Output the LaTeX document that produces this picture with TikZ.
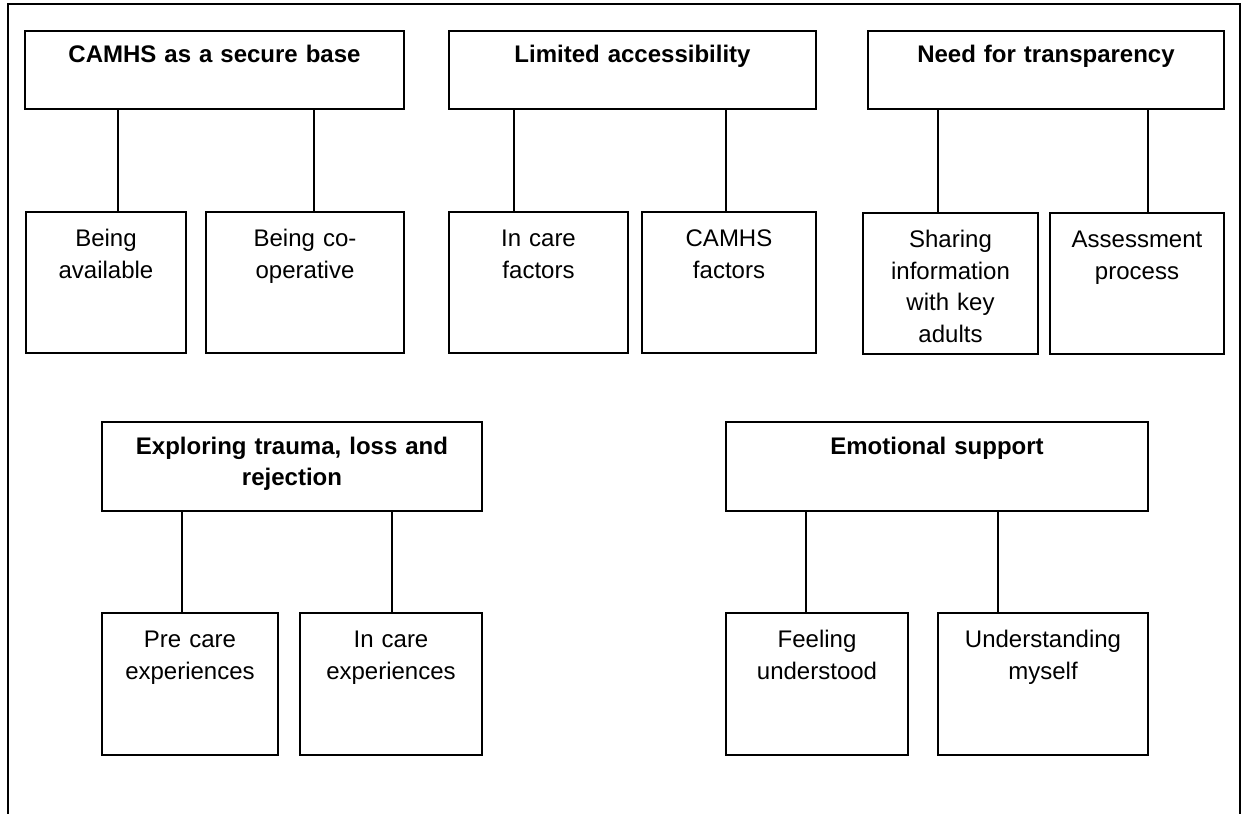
\documentclass[tikz,border=0pt]{standalone}
\usepackage{fontspec}
\setmainfont{Liberation Sans}
\begin{document}
\begin{tikzpicture}[x=1bp,y=-1bp,
  every node/.style={inner sep=0pt, outer sep=0pt},
  % theme box: bold title, first baseline 32 units below the top edge
  themebox/.style={draw, line width=1.6bp, align=center,
    font=\fontsize{24bp}{31.5bp}\selectfont\bfseries, text height=32bp},
  % sub-theme box: regular text, first baseline 34 units below the top edge
  subbox/.style={draw, line width=1.6bp, align=center,
    font=\fontsize{24bp}{31.5bp}\selectfont, text height=34.5bp},
  link/.style={line width=1.6bp},
  frame/.style={line width=2.6bp}
]
\useasboundingbox (0,0) rectangle (1241,814);

% outer frame, open at the bottom
\coordinate (fbl) at (8,816);
\coordinate (ftl) at (8,4);
\coordinate (ftr) at (1240,4);
\coordinate (fbr) at (1240,816);
\draw[frame] (fbl) -- (ftl) -- (ftr) -- (fbr);

% ---- top row of themes ----
\node[themebox, text width=379bp, text depth=46bp, anchor=north west] (h1) at (25,31) {CAMHS as a secure base};
\node[themebox, text width=367bp, text depth=46bp, anchor=north west] (h2) at (449,31) {Limited accessibility};
\node[themebox, text width=356bp, text depth=46bp, anchor=north west] (h3) at (868,31) {Need for transparency};

\node[subbox, text width=160bp, text depth=106.5bp, anchor=north west] (c11) at (26,212) {Being\\available};
\node[subbox, text width=198bp, text depth=106.5bp, anchor=north west] (c12) at (206,212) {Being co-\\operative};
\node[subbox, text width=179bp, text depth=106.5bp, anchor=north west] (c21) at (449,212) {In care\\factors};
\node[subbox, text width=174bp, text depth=106.5bp, anchor=north west] (c22) at (642,212) {CAMHS\\factors};
\node[subbox, text width=175bp, text depth=106.5bp, anchor=north west] (c31) at (863,213) {Sharing\\information\\with key\\adults};
\node[subbox, text width=174bp, text depth=106.5bp, anchor=north west] (c32) at (1050,213) {Assessment\\process};

\draw[link] (h1.south -| 118,0) -- (c11.north -| 118,0);
\draw[link] (h1.south -| 314,0) -- (c12.north -| 314,0);
\draw[link] (h2.south -| 514,0) -- (c21.north -| 514,0);
\draw[link] (h2.south -| 726,0) -- (c22.north -| 726,0);
\draw[link] (h3.south -| 938,0) -- (c31.north -| 938,0);
\draw[link] (h3.south -| 1148,0) -- (c32.north -| 1148,0);

% ---- bottom row of themes ----
\node[themebox, text width=380bp, text depth=57bp, anchor=north west] (h4) at (102,422) {Exploring trauma, loss and\\rejection};
\node[themebox, text width=422bp, text depth=57bp, anchor=north west] (h5) at (726,422) {Emotional support};

\node[subbox, text width=176bp, text depth=107.5bp, anchor=north west] (c41) at (102,613) {Pre care\\experiences};
\node[subbox, text width=182bp, text depth=107.5bp, anchor=north west] (c42) at (300,613) {In care\\experiences};
\node[subbox, text width=182bp, text depth=107.5bp, anchor=north west] (c51) at (726,613) {Feeling\\understood};
\node[subbox, text width=210bp, text depth=107.5bp, anchor=north west] (c52) at (938,613) {Understanding\\myself};

\draw[link] (h4.south -| 182,0) -- (c41.north -| 182,0);
\draw[link] (h4.south -| 392,0) -- (c42.north -| 392,0);
\draw[link] (h5.south -| 806,0) -- (c51.north -| 806,0);
\draw[link] (h5.south -| 998,0) -- (c52.north -| 998,0);
\end{tikzpicture}
\end{document}
